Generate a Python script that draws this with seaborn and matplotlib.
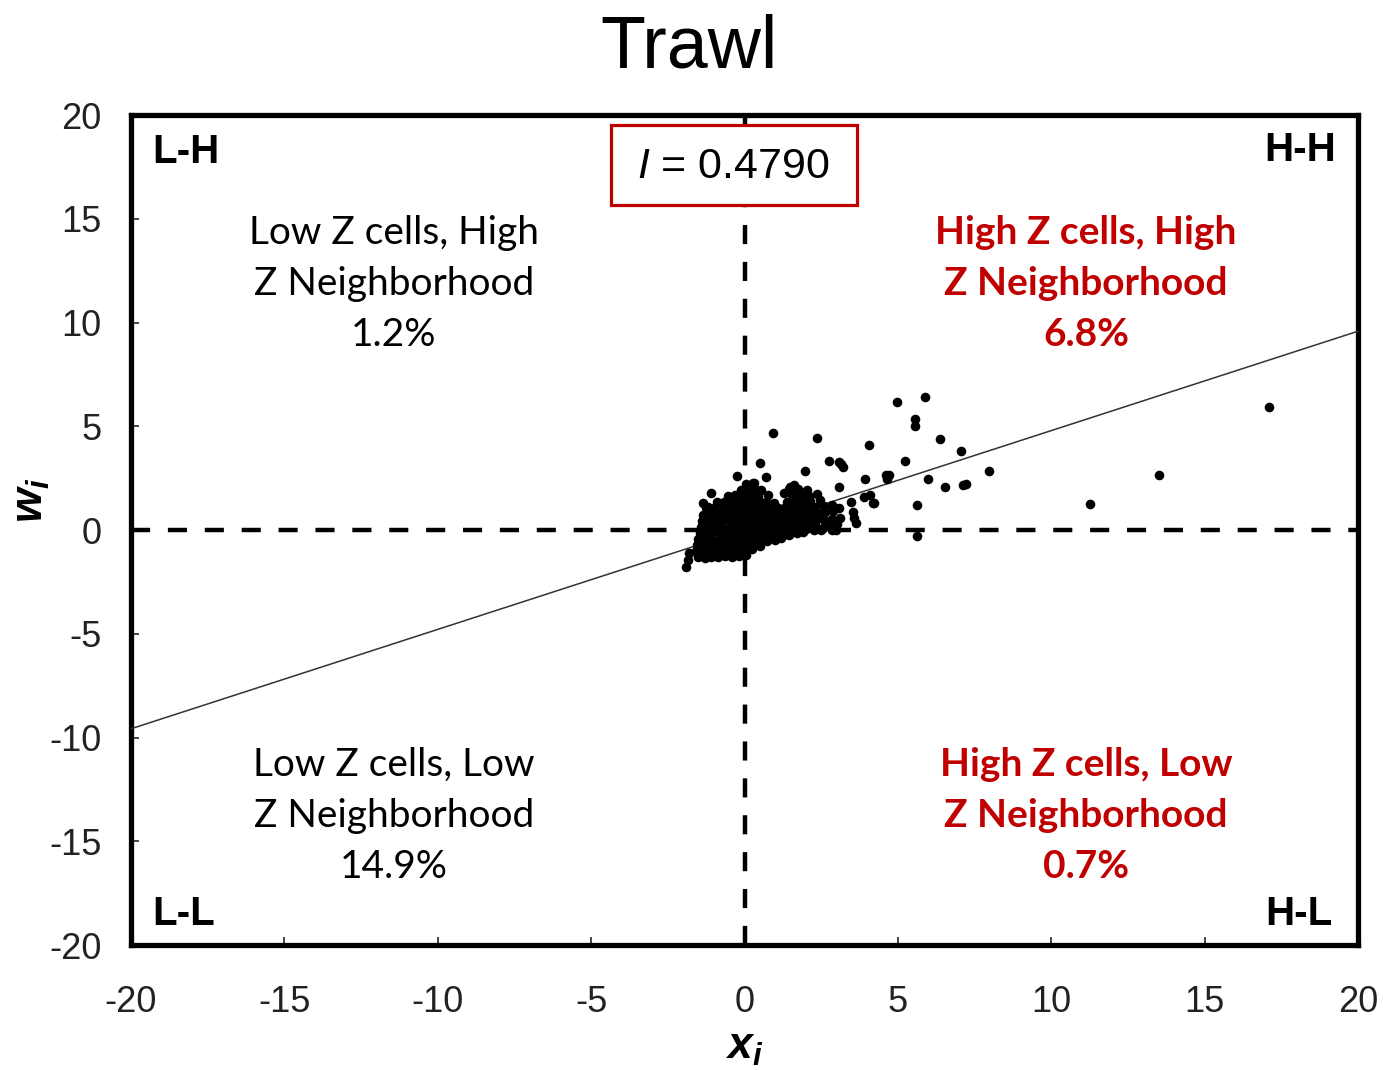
import matplotlib
matplotlib.use("Agg")
import matplotlib.pyplot as plt
import seaborn as sns
import pandas as pd
from matplotlib.patches import Rectangle

# ---------------- data ----------------
moran_I = 0.4790
x_ticks = [-20, -15, -10, -5, 0, 5, 10, 15, 20]
y_ticks = [-20, -15, -10, -5, 0, 5, 10, 15, 20]

# dense cluster around the origin
core_x = [
    -1.52, -1.30, -1.08, -0.85, -0.62, -0.40, -0.18, 0.05,
    -1.58, -1.36, -1.12, -0.90, -0.66, -0.44, -0.20, 0.02, 0.25, 0.50,
    -1.55, -1.32, -1.10, -0.88, -0.64, -0.42, -0.20, 0.03, 0.26, 0.50, 0.74, 0.98, 1.20,
    -1.50, -1.28, -1.05, -0.82, -0.60, -0.38, -0.15, 0.08, 0.30, 0.54, 0.77, 1.00, 1.22, 1.45, 1.70, 1.92,
    -1.45, -1.22, -1.00, -0.78, -0.55, -0.32, -0.10, 0.14, 0.36, 0.60, 0.83, 1.05, 1.30, 1.52, 1.76, 2.00, 2.25, 2.50, 2.85,
    -1.42, -1.20, -0.96, -0.74, -0.50, -0.28, -0.05, 0.18, 0.40, 0.64, 0.87, 1.10, 1.34, 1.56, 1.80, 2.04, 2.30, 2.55, 2.78, 3.00,
    -1.38, -1.15, -0.92, -0.70, -0.46, -0.24, 0.00, 0.22, 0.45, 0.68, 0.92, 1.15, 1.38, 1.62, 1.85, 2.10, 2.35, 2.60, 2.85, 3.10,
    -1.35, -1.12, -0.88, -0.66, -0.42, -0.20, 0.04, 0.26, 0.50, 0.72, 0.96, 1.20, 1.42, 1.66, 1.90, 2.15, 2.40, 2.62, 2.90,
    -1.25, -1.00, -0.78, -0.55, -0.32, -0.10, 0.14, 0.36, 0.60, 0.84, 1.08, 1.30, 1.55, 1.80, 2.05, 2.30, 2.60, 2.85,
    -0.90, -0.68, -0.45, -0.22, 0.00, 0.24, 0.48, 0.70, 0.95, 1.40, 1.65, 1.90, 2.15, 2.45,
    -0.55, -0.30, -0.05, 0.20, 0.45, 0.75, 1.55, 1.80, 2.10, 2.35,
    -0.10, 0.12, 0.38, 1.45, 1.75, 2.05,
    0.05, 0.30, 1.60,
]
core_y = [
    -1.30, -1.33, -1.28, -1.31, -1.27, -1.32, -1.26, -1.22,
    -1.02, -1.06, -0.98, -1.04, -1.00, -0.97, -1.03, -0.95, -0.90, -0.78,
    -0.72, -0.76, -0.70, -0.74, -0.69, -0.75, -0.71, -0.73, -0.68, -0.62, -0.55, -0.48, -0.40,
    -0.44, -0.46, -0.42, -0.47, -0.43, -0.45, -0.41, -0.46, -0.44, -0.40, -0.38, -0.35, -0.30, -0.22, -0.15, -0.10,
    -0.14, -0.17, -0.12, -0.16, -0.13, -0.15, -0.11, -0.16, -0.14, -0.12, -0.10, -0.13, -0.08, -0.05, 0.02, 0.05, -0.02, 0.00, -0.02,
    0.14, 0.17, 0.13, 0.16, 0.12, 0.15, 0.18, 0.14, 0.16, 0.13, 0.17, 0.15, 0.18, 0.14, 0.20, 0.16, 0.22, 0.12, 0.25, 0.30,
    0.44, 0.47, 0.43, 0.46, 0.45, 0.42, 0.48, 0.44, 0.46, 0.43, 0.47, 0.45, 0.49, 0.44, 0.50, 0.46, 0.52, 0.48, 0.55, 0.58,
    0.74, 0.77, 0.73, 0.76, 0.75, 0.72, 0.78, 0.74, 0.76, 0.73, 0.77, 0.75, 0.79, 0.74, 0.80, 0.78, 0.82, 0.85, 0.90,
    1.04, 1.07, 1.03, 1.06, 1.05, 1.02, 1.08, 1.04, 1.06, 1.03, 1.07, 1.05, 1.09, 1.04, 1.10, 1.12, 1.15, 1.20,
    1.34, 1.37, 1.33, 1.36, 1.35, 1.32, 1.38, 1.34, 1.30, 1.36, 1.40, 1.38, 1.42, 1.45,
    1.64, 1.67, 1.63, 1.66, 1.62, 1.70, 1.68, 1.72, 1.65, 1.75,
    1.95, 1.98, 1.92, 1.96, 2.00, 1.94,
    2.22, 2.25, 2.18,
]

# scattered points away from the cluster
out_x = [17.10, 13.50, 11.27, 4.96, 5.87, 5.55, 5.57, 6.37, 7.06, 7.96, 7.12, 7.22,
         6.53, 5.98, 5.62, 5.62, 5.22, 4.70, 4.66, 4.07, 3.94, 4.10, 4.20, 3.88,
         3.58, 3.64, 3.53, 3.15, 3.20, 2.77, 2.37, 1.97, 0.93, 0.49, -0.25, 0.70,
         -1.10, -1.90, -1.85, -1.80, 3.08, 2.97, 3.47, 3.07, 4.23, 4.61, 3.09, 0.27,
         0.54, 1.30, 1.47, -0.49, -1.20, -1.36]
out_y = [5.93, 2.65, 1.25, 6.17, 6.43, 5.36, 5.01, 4.37, 3.82, 2.83, 2.15, 2.20,
         2.06, 2.44, 1.22, -0.29, 3.31, 2.67, 2.47, 4.08, 2.44, 1.70, 1.29, 1.58,
         0.56, 0.32, 0.88, 3.18, 3.02, 3.31, 4.45, 2.86, 4.66, 3.24, 2.60, 2.57,
         1.77, -1.77, -1.45, -1.12, 2.06, -0.02, 1.37, 1.04, 1.32, 2.65, 3.29, 2.25,
         1.93, 1.77, 2.09, 1.36, 1.12, 1.29]

title = "Trawl"
corner_labels = ["L-H", "H-H", "L-L", "H-L"]
q_lh = ["Low Z cells, High", "Z Neighborhood", "1.2%"]
q_hh = ["High Z cells, High", "Z Neighborhood", "6.8%"]
q_ll = ["Low Z cells, Low", "Z Neighborhood", "14.9%"]
q_hl = ["High Z cells, Low", "Z Neighborhood", "0.7%"]

df = pd.DataFrame({"x": core_x + out_x, "w": core_y + out_y})

# ---------------- style ----------------
sns.set_style("white")
plt.rcParams["font.family"] = ["Liberation Sans", "DejaVu Sans"]
plt.rcParams["text.color"] = "black"
plt.rcParams["mathtext.fontset"] = "custom"
plt.rcParams["mathtext.it"] = "Liberation Sans:italic:bold"
plt.rcParams["mathtext.rm"] = "Liberation Sans"
plt.rcParams["mathtext.sf"] = "Liberation Sans:italic"

W, H = 1383, 1070
fig = plt.figure(figsize=(W / 100, H / 100), dpi=100)
L, R, T, B = 131, 1358, 115, 945
ax = fig.add_axes([L / W, 1 - B / H, (R - L) / W, (B - T) / H])

def fx(px):
    return px / W

def fy(py):
    return 1 - py / H

RED = "#C00000"

sns.scatterplot(data=df, x="x", y="w", ax=ax, color="black", s=48,
                linewidth=0, zorder=4, legend=False)
ax.axline((0, 0), slope=moran_I, color="#333333", lw=1.1, zorder=3)
ax.axhline(0, color="black", lw=3.2, linestyle=(0, (4.3, 4.0)), zorder=2)
ax.axvline(0, color="black", lw=3.2, linestyle=(0, (4.3, 4.0)), zorder=2)

ax.set_xlim(-20, 20)
ax.set_ylim(-20, 20)
ax.set_xticks(x_ticks)
ax.set_yticks(y_ticks)
ax.set_xticklabels([str(v) for v in x_ticks])
ax.set_yticklabels([str(v) for v in y_ticks])
ax.tick_params(axis="x", direction="in", length=6, width=1.2, pad=29,
               labelsize=26, labelcolor="#222222", bottom=True, top=False)
ax.tick_params(axis="y", direction="in", length=6, width=1.2, pad=21,
               labelsize=26, labelcolor="#222222", left=True, right=False)
ax.set_xlabel("")
ax.set_ylabel("")
for sp in ax.spines.values():
    sp.set_linewidth(3.8)
    sp.set_color("black")
    sp.set_visible(True)

# title and axis labels
fig.text(fx(689), fy(68), title, fontsize=53, ha="center", va="baseline", color="black")
fig.text(fx(745), fy(1048), r"$x_i$", fontsize=32, ha="center", va="center")
fig.text(fx(32), fy(500), r"$w_i$", fontsize=32, ha="center", va="center",
         rotation=90)

# corner labels
fig.text(fx(152), fy(163), corner_labels[0], fontsize=29, fontweight="bold", ha="left", va="baseline")
fig.text(fx(1336), fy(161), corner_labels[1], fontsize=29, fontweight="bold", ha="right", va="baseline")
fig.text(fx(152), fy(925), corner_labels[2], fontsize=29, fontweight="bold", ha="left", va="baseline")
fig.text(fx(1333), fy(925), corner_labels[3], fontsize=29, fontweight="bold", ha="right", va="baseline")

# Moran's I box
fig.patches.append(Rectangle((fx(611), fy(205)), fx(857) - fx(611), fy(125) - fy(205),
                             transform=fig.transFigure, fill=True, facecolor="white",
                             edgecolor=RED, lw=2.3, zorder=5))
fig.text(fx(733), fy(178), r"$\mathsf{I}$ = 0.4790", fontsize=31, ha="center",
         va="baseline", zorder=6)

# quadrant descriptions
def block(lines, cx, base, color, weight):
    for i, s in enumerate(lines):
        fig.text(fx(cx), fy(base + 51 * i), s, fontsize=28, ha="center", va="baseline",
                 color=color, fontweight=weight, family=["Lato", "DejaVu Sans"])

block(q_lh, 394, 244, "black", "normal")
block(q_hh, 1086, 244, RED, "bold")
block(q_ll, 394, 776, "black", "normal")
block(q_hl, 1086, 776, RED, "bold")

fig.savefig("out.png", dpi=100, facecolor="white")
